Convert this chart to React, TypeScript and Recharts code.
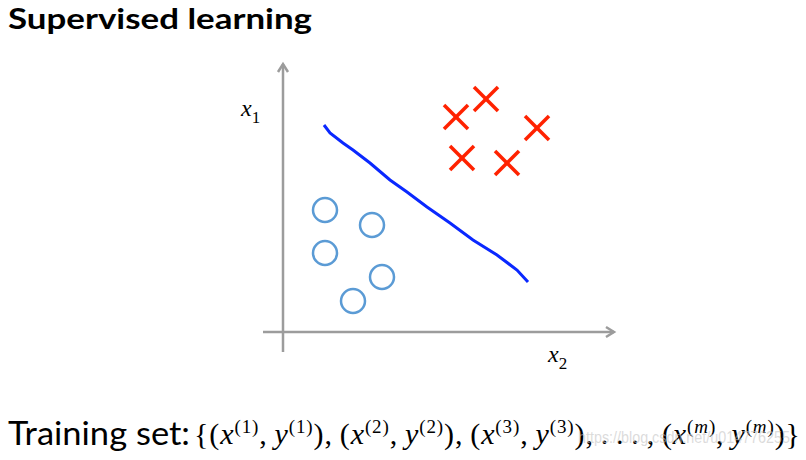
import React from 'react';
import { ScatterChart, Scatter, XAxis, YAxis, ReferenceLine } from 'recharts';

// Data (x2 = horizontal feature, x1 = vertical feature)
const positives = [
  { x: 173, y: 215 },
  { x: 203, y: 233 },
  { x: 254, y: 204 },
  { x: 179, y: 174 },
  { x: 224, y: 169 },
];
const negatives = [
  { x: 42, y: 122 },
  { x: 89, y: 107 },
  { x: 42, y: 79 },
  { x: 99, y: 55 },
  { x: 70, y: 31 },
];
const boundary = [
  { x: 41, y: 207 },
  { x: 47, y: 199 },
  { x: 60, y: 189 },
  { x: 70, y: 182 },
  { x: 87, y: 169 },
  { x: 107, y: 152 },
  { x: 124, y: 140 },
  { x: 144, y: 125 },
  { x: 167, y: 109 },
  { x: 190, y: 92 },
  { x: 214, y: 77 },
  { x: 234, y: 62 },
  { x: 245, y: 50 },
];
const xDomain = [0, 332];
const yDomain = [0, 269];
const axisStart = -20;
const superscripts = ['1', '2', '3'];
const lastSuperscript = 'm';
const titleText = 'Supervised learning';
const trainingLabel = 'Training set:';
const watermark = 'https://blog.csdn.net/u014776255';

const AXIS_COLOR = '#9c9c9c';
const mathStyle = { fontFamily: '"Liberation Serif", "Times New Roman", serif' } as React.CSSProperties;

const Cross = (props: any) => {
  const { cx, cy } = props;
  const s = 12;
  return (
    <g stroke="#ff2200" strokeWidth={3.5} strokeLinecap="butt">
      <line x1={cx - s} y1={cy - s} x2={cx + s} y2={cy + s} />
      <line x1={cx - s} y1={cy + s} x2={cx + s} y2={cy - s} />
    </g>
  );
};

const Ring = (props: any) => {
  const { cx, cy } = props;
  return <circle cx={cx} cy={cy} r={12} fill="none" stroke="#5b9bd5" strokeWidth={2.5} />;
};

const NoShape = () => <g />;

const VerticalAxis = (props: any) => {
  const { x1, y1, x2, y2 } = props;
  const tipX = x2;
  const tipY = Math.min(y1, y2);
  const baseY = Math.max(y1, y2);
  return (
    <g>
      <line x1={tipX} y1={baseY} x2={tipX} y2={tipY + 1} stroke={AXIS_COLOR} strokeWidth={2.5} />
      <polyline
        points={`${tipX - 5},${tipY + 9} ${tipX},${tipY + 1} ${tipX + 5},${tipY + 9}`}
        fill="none"
        stroke={AXIS_COLOR}
        strokeWidth={2.5}
      />
      <text x={tipX - 42} y={tipY + 53} style={mathStyle} fontSize={24} fill="#000">
        <tspan fontStyle="italic">x</tspan>
        <tspan dy={7} fontSize={17}>1</tspan>
      </text>
    </g>
  );
};

const HorizontalAxis = (props: any) => {
  const { x1, y1, x2 } = props;
  const tipX = Math.max(x1, x2);
  const baseX = Math.min(x1, x2);
  const y = y1;
  return (
    <g>
      <line x1={baseX} y1={y} x2={tipX - 1} y2={y} stroke={AXIS_COLOR} strokeWidth={2.5} />
      <polyline
        points={`${tipX - 9},${y - 5} ${tipX - 1},${y} ${tipX - 9},${y + 5}`}
        fill="none"
        stroke={AXIS_COLOR}
        strokeWidth={2.5}
      />
      <text x={tipX - 67} y={y + 30} style={mathStyle} fontSize={24} fill="#000">
        <tspan fontStyle="italic">x</tspan>
        <tspan dy={7} fontSize={17}>2</tspan>
      </text>
    </g>
  );
};

function pair(label: string, italicLabel: boolean, key: string) {
  const sup = (k: string) => [
    <tspan key={k + 'a'} dy={-11} fontSize={19}>
      (
    </tspan>,
    <tspan key={k + 'b'} fontSize={19} fontStyle={italicLabel ? 'italic' : 'normal'}>
      {label}
    </tspan>,
    <tspan key={k + 'c'} fontSize={19}>
      )
    </tspan>,
  ];
  return [
    <tspan key={key + 'p'}>(</tspan>,
    <tspan key={key + 'x'} fontStyle="italic">
      x
    </tspan>,
    ...sup(key + 'sx'),
    <tspan key={key + 'c1'} dy={11}>
      ,{'\u2009'}
    </tspan>,
    <tspan key={key + 'y'} fontStyle="italic">
      y
    </tspan>,
    ...sup(key + 'sy'),
    <tspan key={key + 'q'} dy={11}>
      )
    </tspan>,
  ];
}

const MathSet = () => {
  const parts: any[] = [<tspan key="open">{'{'}</tspan>];
  superscripts.forEach((s, i) => {
    parts.push(...pair(s, false, 'p' + i));
    parts.push(<tspan key={'sep' + i}>,{'\u2009'}</tspan>);
  });
  parts.push(<tspan key="dots">.{'\u2009'}.{'\u2009'}.{'\u2009'},{'\u2009'}</tspan>);
  parts.push(...pair(lastSuperscript, true, 'pm'));
  parts.push(<tspan key="close">{'}'}</tspan>);
  return (
    <text x={194} y={444} style={mathStyle} fontSize={30} fill="#000" textLength={606} lengthAdjust="spacing">
      {parts}
    </text>
  );
};

export default function App() {
  return (
    <div style={{ position: 'absolute', left: 0, top: 0, width: 806, height: 460, background: '#fff' }}>
      <ScatterChart width={806} height={460} margin={{ top: 63, right: 191, bottom: 128, left: 283 }}>
        <XAxis type="number" dataKey="x" domain={xDomain} allowDataOverflow hide />
        <YAxis type="number" dataKey="y" domain={yDomain} allowDataOverflow hide />
        <ReferenceLine
          segment={[
            { x: 0, y: axisStart },
            { x: 0, y: yDomain[1] },
          ]}
          ifOverflow="visible"
          shape={VerticalAxis}
        />
        <ReferenceLine
          segment={[
            { x: axisStart, y: 0 },
            { x: xDomain[1], y: 0 },
          ]}
          ifOverflow="visible"
          shape={HorizontalAxis}
        />
        <Scatter
          data={boundary}
          line={{ stroke: '#0a28ff', strokeWidth: 3 }}
          lineType="joint"
          shape={NoShape}
          isAnimationActive={false}
        />
        <Scatter data={negatives} shape={Ring} isAnimationActive={false} />
        <Scatter data={positives} shape={Cross} isAnimationActive={false} />
      </ScatterChart>
      <svg
        width={806}
        height={460}
        style={{ position: 'absolute', left: 0, top: 0, pointerEvents: 'none' }}
      >
        <text x={8} y={29} fontFamily="Lato, 'Open Sans', sans-serif" fontWeight={700} fontSize={29} fill="#000" textLength={304} lengthAdjust="spacingAndGlyphs">
          {titleText}
        </text>
        <text x={8} y={445} fontFamily="Lato, 'Open Sans', sans-serif" fontSize={33} fill="#000" textLength={182} lengthAdjust="spacingAndGlyphs">
          {trainingLabel}
        </text>
        <MathSet />
        <text x={578} y={443} fontFamily="'Liberation Sans', Arial, sans-serif" fontSize={17} fill="#c4c4c4" fillOpacity={0.6} textLength={212} lengthAdjust="spacingAndGlyphs">
          {watermark}
        </text>
      </svg>
    </div>
  );
}
